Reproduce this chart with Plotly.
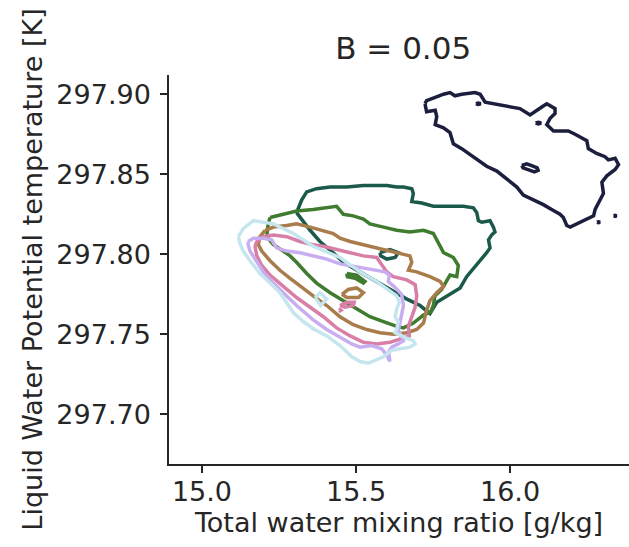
import plotly.graph_objects as go

# ---- data, x: total water [g/kg], y: theta_l [K] ----
# None separates the rings that belong to the same contour set.
navy_x = [15.724, 15.729, 15.757, 15.762, 15.757, 15.784, 15.805, 15.816, 15.843, 15.881, 15.924, 15.957,
          15.989, 16.022, 16.043, 16.076, 16.108, 16.135, 16.162, 16.173, 16.184, 16.195, 16.238, 16.271,
          16.276, 16.292, 16.303, 16.298, 16.314, 16.341, 16.352, 16.341, 16.319, 16.308, 16.281, 16.254,
          16.249, 16.211, 16.189, 16.141, 16.119, 16.130, 16.146, 16.146, 16.119, 16.103, 16.076, 16.065,
          16.032, 16.000, 15.946, 15.919, 15.903, 15.886, 15.843, 15.821, 15.805, 15.784, 15.757, 15.729,
          15.724, None,
          15.889, 15.897, 15.905, 15.897, 15.889, None,
          16.083, 16.092, 16.101, 16.092, 16.083, None,
          16.038, 16.054, 16.068, 16.088, 16.091, 16.079, 16.056, 16.042, 16.038, None,
          16.282, 16.287, 16.292, 16.287, 16.282, None,
          16.336, 16.341, 16.346, 16.341, 16.336]
navy_y = [297.894, 297.889, 297.890, 297.886, 297.881, 297.879, 297.876, 297.869, 297.866, 297.861, 297.855, 297.852,
          297.847, 297.842, 297.837, 297.834, 297.831, 297.828, 297.825, 297.823, 297.818, 297.817, 297.821, 297.824,
          297.828, 297.834, 297.838, 297.845, 297.849, 297.853, 297.856, 297.860, 297.859, 297.861, 297.863, 297.866,
          297.871, 297.875, 297.877, 297.877, 297.881, 297.885, 297.888, 297.891, 297.894, 297.892, 297.888, 297.887,
          297.891, 297.892, 297.894, 297.895, 297.900, 297.901, 297.900, 297.899, 297.901, 297.900, 297.898, 297.896,
          297.894, None,
          297.894, 297.8944, 297.894, 297.8936, 297.894, None,
          297.882, 297.8825, 297.882, 297.8815, 297.882, None,
          297.8555, 297.8565, 297.8555, 297.8540, 297.8525, 297.8515, 297.8530, 297.8540, 297.8555, None,
          297.820, 297.8203, 297.820, 297.8197, 297.820, None,
          297.824, 297.8243, 297.824, 297.8237, 297.824]

teal_x = [15.307, 15.324, 15.340, 15.372, 15.416, 15.470, 15.524, 15.556, 15.600, 15.632, 15.654, 15.681,
          15.686, 15.681, 15.713, 15.751, 15.805, 15.848, 15.881, 15.892, 15.897, 15.908, 15.935, 15.946,
          15.951, 15.940, 15.930, 15.935, 15.924, 15.892, 15.859, 15.838, 15.794, 15.762, 15.740, 15.708,
          15.665, 15.610, 15.556, 15.502, 15.459, 15.426, 15.383, 15.351, 15.318, 15.307, None,
          15.578, 15.610, 15.637, 15.627, 15.600, 15.580, 15.578]
teal_y = [297.826, 297.834, 297.839, 297.841, 297.842, 297.842, 297.843, 297.843, 297.843, 297.842, 297.842, 297.841,
          297.838, 297.833, 297.832, 297.830, 297.830, 297.830, 297.829, 297.826, 297.821, 297.820, 297.821, 297.817,
          297.814, 297.812, 297.809, 297.804, 297.801, 297.794, 297.786, 297.779, 297.774, 297.770, 297.763, 297.768,
          297.772, 297.778, 297.784, 297.790, 297.795, 297.801, 297.808, 297.815, 297.823, 297.826, None,
          297.801, 297.803, 297.801, 297.798, 297.797, 297.799, 297.801]

green_x = [15.221, 15.264, 15.307, 15.361, 15.405, 15.437, 15.459, 15.491, 15.524, 15.545, 15.589, 15.632,
           15.675, 15.719, 15.751, 15.762, 15.784, 15.816, 15.832, 15.827, 15.805, 15.778, 15.756, 15.751,
           15.742, 15.719, 15.686, 15.654, 15.632, 15.589, 15.545, 15.502, 15.459, 15.416, 15.372, 15.340,
           15.307, 15.286, 15.264, 15.232, 15.210, 15.215, 15.221, None,
           15.470, 15.502, 15.529, 15.524, 15.497, 15.472, 15.470]
green_y = [297.823, 297.825, 297.827, 297.828, 297.829, 297.830, 297.825, 297.824, 297.822, 297.819, 297.817, 297.815,
           297.814, 297.815, 297.813, 297.809, 297.801, 297.798, 297.793, 297.786, 297.787, 297.778, 297.774, 297.768,
           297.764, 297.762, 297.757, 297.754, 297.755, 297.758, 297.761, 297.766, 297.771, 297.776, 297.782, 297.788,
           297.795, 297.799, 297.802, 297.806, 297.811, 297.819, 297.823, None,
           297.788, 297.787, 297.783, 297.782, 297.785, 297.786, 297.788]

brown_x = [15.205, 15.232, 15.275, 15.307, 15.351, 15.394, 15.426, 15.448, 15.481, 15.524, 15.567, 15.600,
           15.643, 15.675, 15.681, 15.670, 15.697, 15.740, 15.773, 15.784, 15.762, 15.740, 15.729, 15.719,
           15.697, 15.665, 15.621, 15.578, 15.535, 15.491, 15.448, 15.405, 15.361, 15.318, 15.286, 15.253,
           15.221, 15.194, 15.183, 15.188, 15.205, None,
           15.454, 15.475, 15.502, 15.524, 15.508, 15.470, 15.454]
brown_y = [297.815, 297.817, 297.818, 297.819, 297.817, 297.815, 297.813, 297.810, 297.808, 297.806, 297.804, 297.803,
           297.801, 297.799, 297.795, 297.790, 297.789, 297.786, 297.783, 297.780, 297.776, 297.771, 297.765, 297.757,
           297.753, 297.751, 297.750, 297.751, 297.753, 297.756, 297.761, 297.768, 297.774, 297.780, 297.785, 297.790,
           297.796, 297.802, 297.806, 297.811, 297.815, None,
           297.775, 297.778, 297.779, 297.776, 297.773, 297.773, 297.775]

pink_x = [15.172, 15.178, 15.199, 15.232, 15.275, 15.318, 15.361, 15.394, 15.437, 15.481, 15.524, 15.567,
          15.583, 15.600, 15.621, 15.665, 15.692, 15.697, 15.692, 15.681, 15.670, 15.673, 15.643, 15.610,
          15.567, 15.524, 15.481, 15.437, 15.394, 15.351, 15.307, 15.264, 15.221, 15.194, 15.178, 15.172, None,
          15.448, 15.470, 15.494, 15.491, 15.464, 15.448, None,
          15.445, 15.448, 15.451, 15.448, 15.445]
pink_y = [297.805, 297.808, 297.811, 297.812, 297.811, 297.808, 297.806, 297.805, 297.803, 297.801, 297.799, 297.798,
          297.794, 297.789, 297.786, 297.784, 297.781, 297.774, 297.767, 297.761, 297.755, 297.749, 297.747, 297.745,
          297.744, 297.745, 297.749, 297.754, 297.761, 297.767, 297.773, 297.780, 297.787, 297.793, 297.799, 297.805, None,
          297.768, 297.770, 297.770, 297.768, 297.767, 297.768, None,
          297.765, 297.7654, 297.765, 297.7646, 297.765]

lav_x = [15.150, 15.167, 15.199, 15.226, 15.242, 15.275, 15.318, 15.361, 15.405, 15.448, 15.502, 15.556,
         15.594, 15.608, 15.605, 15.623, 15.648, 15.654, 15.643, 15.637, 15.648, 15.654, 15.637, 15.616,
         15.606, 15.610, 15.600, 15.583, 15.551, 15.513, 15.486, 15.448, 15.405, 15.361, 15.307, 15.264,
         15.232, 15.199, 15.172, 15.156, 15.150, 15.150]
lav_y = [297.808, 297.810, 297.810, 297.809, 297.804, 297.802, 297.801, 297.799, 297.797, 297.794, 297.792, 297.790,
         297.789, 297.787, 297.783, 297.780, 297.775, 297.768, 297.759, 297.752, 297.749, 297.746, 297.744, 297.742,
         297.739, 297.733, 297.737, 297.741, 297.743, 297.742, 297.744, 297.748, 297.753, 297.759, 297.768, 297.776,
         297.782, 297.789, 297.797, 297.802, 297.806, 297.808]

lblue_x = [15.118, 15.134, 15.167, 15.199, 15.232, 15.297, 15.361, 15.448, 15.513, 15.567, 15.605, 15.632,
           15.641, 15.632, 15.627, 15.637, 15.632, 15.627, 15.659, 15.686, 15.692, 15.675, 15.643, 15.616,
           15.589, 15.567, 15.540, 15.513, 15.486, 15.448, 15.405, 15.361, 15.329, 15.297, 15.275, 15.253,
           15.221, 15.188, 15.156, 15.134, 15.123, 15.118, None,
           15.367, 15.383, 15.405, 15.385, 15.367]
lblue_y = [297.811, 297.816, 297.821, 297.820, 297.819, 297.813, 297.805, 297.798, 297.789, 297.783, 297.778, 297.774,
           297.770, 297.766, 297.761, 297.758, 297.753, 297.751, 297.748, 297.746, 297.744, 297.742, 297.741, 297.740,
           297.736, 297.734, 297.732, 297.733, 297.736, 297.743, 297.749, 297.7535, 297.758, 297.7635, 297.770, 297.776,
           297.782, 297.788, 297.796, 297.802, 297.807, 297.811, None,
           297.773, 297.776, 297.772, 297.768, 297.773]

series = [
    ("navy", navy_x, navy_y, "#1c1e3e"),
    ("teal", teal_x, teal_y, "#1b5a4b"),
    ("green", green_x, green_y, "#3f7c30"),
    ("brown", brown_x, brown_y, "#a97c4c"),
    ("pink", pink_x, pink_y, "#d77fa6"),
    ("lavender", lav_x, lav_y, "#c8aef0"),
    ("lightblue", lblue_x, lblue_y, "#c6e6ef"),
]

x_ticks = [15.0, 15.5, 16.0]
x_ticklabels = ["15.0", "15.5", "16.0"]
y_ticks = [297.70, 297.75, 297.80, 297.85, 297.90]
y_ticklabels = ["297.70", "297.75", "297.80", "297.85", "297.90"]

fig = go.Figure()
for name, xs, ys, col in series:
    fig.add_trace(go.Scatter(x=xs, y=ys, mode="lines", name=name,
                             line=dict(color=col, width=3.5), connectgaps=False,
                             hoverinfo="skip"))

TXT = "#262626"
FONT = "DejaVu Sans"
fig.update_layout(
    width=629, height=547,
    margin=dict(l=169, r=0, t=75, b=83, autoexpand=False),
    paper_bgcolor="white", plot_bgcolor="white",
    showlegend=False,
    font=dict(family=FONT, color=TXT, size=27),
    title=dict(text="B = 0.05", x=0.641, xref="container", xanchor="center",
               y=1 - 48 / 547, yref="container", yanchor="middle",
               font=dict(family=FONT, size=31, color=TXT)),
)
fig.update_xaxes(
    range=[14.893, 16.386], showgrid=False, zeroline=False,
    showline=True, linecolor=TXT, linewidth=1.5, mirror=False,
    ticks="outside", ticklen=7, tickwidth=1.5, tickcolor=TXT,
    tickvals=x_ticks, ticktext=x_ticklabels, tickfont=dict(size=27, family=FONT, color=TXT),
    ticklabelstandoff=-4,
    title=dict(text="Total water mixing ratio [g/kg]", font=dict(size=27, family=FONT, color=TXT), standoff=4),
    automargin=False,
)
fig.update_yaxes(
    range=[297.669, 297.912], showgrid=False, zeroline=False,
    showline=True, linecolor=TXT, linewidth=1.5, mirror=False,
    ticks="outside", ticklen=7, tickwidth=1.5, tickcolor=TXT,
    tickvals=y_ticks, ticktext=y_ticklabels, tickfont=dict(size=27, family=FONT, color=TXT),
    ticklabelstandoff=4,
    title=dict(text="Liquid Water Potential temperature [K]", font=dict(size=27, family=FONT, color=TXT), standoff=6),
    automargin=False,
)

fig.write_html("out.html")
